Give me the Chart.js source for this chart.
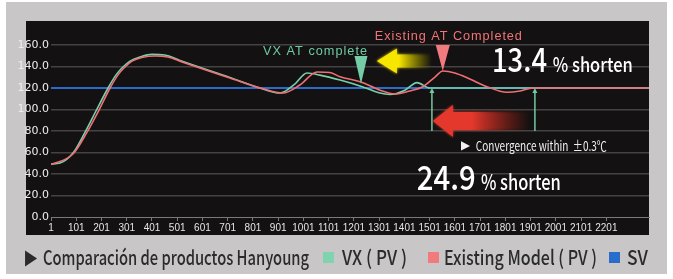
<!DOCTYPE html>
<html>
<head>
<meta charset="utf-8">
<script src="https://cdn.jsdelivr.net/npm/chart.js@4.4.1/dist/chart.umd.min.js"></script>
<style>
  html, body { margin: 0; padding: 0; background: #ffffff; }
  #wrap { position: relative; width: 673px; height: 279px; overflow: hidden; }
  #panel { position: absolute; left: 6px; top: 2px; width: 661px; height: 272px; background: #c8c6c7; }
  #chart { position: absolute; left: 0; top: 0; }
  .lg { position: absolute; top: 246px; height: 22px; line-height: 22px; white-space: nowrap;
        font-family: "Noto Sans CJK KR", "Noto Sans", sans-serif; font-size: 20px; font-weight: 500; color: #2b2b2b; }
  .lg span { display: inline-block; transform-origin: 0 50%; }
  .tri { position: absolute; left: 25px; top: 246px; height: 22px; line-height: 22px;
         font-family: "DejaVu Sans", sans-serif; font-size: 21px; color: #2b2b2b; }
  .tri span { display: inline-block; transform-origin: 0 50%; transform: scaleX(0.75); }
  .sq { position: absolute; top: 252px; width: 11px; height: 11px; }
</style>
</head>
<body>
<div id="wrap">
  <div id="panel"></div>
  <canvas id="chart" width="673" height="279"></canvas>
  <div class="tri"><span>▶</span></div>
  <div class="lg" style="left:43px"><span data-w="266">Comparación de productos Hanyoung</span></div>
  <div class="sq" style="left:323px;background:#7fd3ae"></div>
  <div class="lg" style="left:342px"><span data-w="65">VX ( PV )</span></div>
  <div class="sq" style="left:428px;background:#f07a7c"></div>
  <div class="lg" style="left:444px"><span data-w="153">Existing Model ( PV )</span></div>
  <div class="sq" style="left:609px;background:#2a6ccc"></div>
  <div class="lg" style="left:627px"><span data-w="21">SV</span></div>
</div>
<script>
// tick labels
const xTicks = [1, 101, 201, 301, 401, 501, 601, 701, 801, 901, 1001, 1101,
                1201, 1301, 1401, 1501, 1601, 1701, 1801, 1901, 2001, 2101, 2201];
const yTicks = [0, 20, 40, 60, 80, 100, 120, 140, 160];

// VX (PV) - sample index / temperature
const vxX = [1, 37, 88, 136, 179, 227, 258, 282, 314, 353, 401, 452, 512, 710, 829, 908, 967,
             1015, 1066, 1146, 1237, 1304, 1344, 1403, 1451, 1502, 1541, 2370];
const vxY = [49.3, 50.2, 59.5, 79, 98.6, 120, 132, 138.6, 145, 148.8, 151.3, 150.7, 145.6, 129.8,
             120, 115.3, 123.7, 134, 132, 127.4, 121, 115.3, 114, 118, 125, 120, 120, 120];

// Existing Model (PV)
const oldX = [1, 88, 144, 191, 235, 266, 290, 322, 361, 413, 464, 520, 710, 837, 920, 987, 1055,
              1106, 1146, 1229, 1304, 1363, 1422, 1474, 1522, 1553, 1601, 1660, 1728, 1807, 1859,
              1910, 1957, 2370];
const oldY = [48.8, 58.6, 79, 99.5, 120, 132, 138.6, 145, 148.4, 149.8, 148.8, 144.2, 129.3, 119.5,
              115.3, 122.8, 134.9, 134.4, 130.5, 125.6, 118, 114.4, 117.2, 121.2, 130.2, 135.8, 134,
              128.4, 121.2, 116, 117.2, 120, 120, 120];

// SV
const svX = [1, 2370];
const svY = [120, 120];

const pts = (xs, ys) => xs.map((x, i) => ({ x: x, y: ys[i] }));

const bgPlugin = {
  id: 'bg',
  beforeDraw(chart) {
    const { ctx, chartArea: a } = chart;
    ctx.save();
    ctx.fillStyle = '#131111';
    ctx.fillRect(a.left - 25, a.top - 2.5, a.right - a.left + 25, a.bottom - a.top + 20.5);
    ctx.restore();
  }
};

function fitText(ctx, text, x, y, font, width, color, spacing) {
  ctx.save();
  ctx.font = font;
  ctx.letterSpacing = spacing || '0px';
  ctx.fillStyle = color;
  ctx.textAlign = 'left';
  const w = ctx.measureText(text).width;
  ctx.translate(x, y);
  ctx.scale(width / w, 1);
  ctx.fillText(text, 0, 0);
  ctx.restore();
}

function marker(ctx, x, tipY, topY, half, color) {
  ctx.save();
  ctx.fillStyle = color;
  ctx.beginPath();
  ctx.moveTo(x - half, topY);
  ctx.lineTo(x + half, topY);
  ctx.lineTo(x, tipY);
  ctx.closePath();
  ctx.fill();
  ctx.restore();
}

function bigArrow(ctx, tx, ty, tail, headLen, headH, shaftH, color) {
  ctx.save();
  const g = ctx.createLinearGradient(tx, 0, tail, 0);
  g.addColorStop(0, color);
  g.addColorStop(0.4, color);
  g.addColorStop(1, 'rgba(0,0,0,0)');
  ctx.fillStyle = g;
  ctx.shadowColor = color;
  ctx.shadowBlur = 3;
  ctx.beginPath();
  ctx.moveTo(tx, ty);
  ctx.lineTo(tx + headLen, ty - headH);
  ctx.lineTo(tx + headLen, ty - shaftH);
  ctx.lineTo(tail, ty - shaftH);
  ctx.lineTo(tail, ty + shaftH);
  ctx.lineTo(tx + headLen, ty + shaftH);
  ctx.lineTo(tx + headLen, ty + headH);
  ctx.closePath();
  ctx.fill();
  ctx.restore();
}

function upArrow(ctx, x, top, bottom, color) {
  ctx.save();
  ctx.strokeStyle = color;
  ctx.fillStyle = color;
  ctx.lineWidth = 1.5;
  ctx.beginPath();
  ctx.moveTo(x, bottom);
  ctx.lineTo(x, top + 3);
  ctx.stroke();
  ctx.beginPath();
  ctx.moveTo(x, top);
  ctx.lineTo(x - 2.5, top + 5);
  ctx.lineTo(x + 2.5, top + 5);
  ctx.closePath();
  ctx.fill();
  ctx.restore();
}

const notesPlugin = {
  id: 'notes',
  afterDatasetsDraw(chart) {
    const { ctx, scales: { x, y } } = chart;
    const px = v => x.getPixelForValue(v);
    const py = v => y.getPixelForValue(v);
    const cjk = '"Noto Sans CJK KR", "Noto Sans", sans-serif';
    const lat = '"Liberation Sans", Arial, sans-serif';

    // arrows
    bigArrow(ctx, px(1292), py(145.1), px(1510), 20, 12.5, 6.5, '#f6e600');
    bigArrow(ctx, px(1514), py(89.3), px(1898), 20, 16, 9, '#e5382c');
    upArrow(ctx, px(1510), py(120), py(80), '#74c9a4');
    upArrow(ctx, px(1918), py(120), py(80), '#74c9a4');

    // completion markers
    marker(ctx, px(1229), py(123.7), py(149.8), 6.5, '#74cda6');
    marker(ctx, px(1553), py(135.8), py(160), 7, '#f07a7e');

    ctx.textBaseline = 'middle';
    fitText(ctx, 'VX AT complete', px(841), py(153.5), '12.5px ' + lat, 105, '#6dcaa1', '1px');
    fitText(ctx, 'Existing AT Completed', px(1284), py(168.4), '13.5px ' + lat, 148, '#f07479', '1px');
    fitText(ctx, '▶', px(1625), py(66), '12px "DejaVu Sans"', 9, '#f2f2f2');
    fitText(ctx, 'Convergence within  ±0.3℃', px(1684), py(66), '13.5px ' + cjk, 131, '#f2f2f2');

    ctx.textBaseline = 'alphabetic';
    fitText(ctx, '13.4', px(1748), py(134.9), '500 33px ' + cjk, 55, '#ffffff');
    fitText(ctx, '% shorten', px(1989), py(134.9), '500 20px ' + cjk, 80, '#ffffff');
    fitText(ctx, '24.9', px(1450), py(25.1), '500 34px ' + cjk, 59, '#ffffff');
    fitText(ctx, '% shorten', px(1704), py(25.1), '500 21px ' + cjk, 80, '#ffffff');
  }
};

const line = { pointRadius: 0, fill: false, cubicInterpolationMode: 'monotone' };

new Chart(document.getElementById('chart').getContext('2d'), {
  type: 'line',
  data: {
    datasets: [
      Object.assign({ label: 'Existing Model ( PV )', data: pts(oldX, oldY), borderColor: '#ef6f74', borderWidth: 1.6, order: 0 }, line),
      Object.assign({ label: 'VX ( PV )', data: pts(vxX, vxY), borderColor: '#78d0aa', borderWidth: 1.6, order: 1 }, line),
      Object.assign({ label: 'SV', data: pts(svX, svY), borderColor: '#2a6ccc', borderWidth: 2.2, order: 2 }, line)
    ]
  },
  options: {
    responsive: false,
    animation: false,
    events: [],
    layout: { padding: { left: 0, right: 24, top: 23.5, bottom: 42 } },
    plugins: { legend: { display: false }, tooltip: { enabled: false } },
    scales: {
      x: {
        type: 'linear', min: 1, max: 2370,
        afterBuildTicks: s => { s.ticks = xTicks.map(v => ({ value: v })); },
        afterFit: s => { s.height = 20; },
        grid: { drawOnChartArea: false, drawTicks: true, tickLength: 4, color: '#7a7a7a' },
        border: { display: true, color: '#7a7a7a', width: 1 },
        ticks: { color: '#e6e6e6', font: { family: 'Liberation Sans', size: 10 }, padding: 1,
                 maxRotation: 0, autoSkip: false, callback: v => String(v) }
      },
      y: {
        min: 0, max: 180,
        afterBuildTicks: s => { s.ticks = yTicks.map(v => ({ value: v })); },
        afterFit: s => { s.width = 51; },
        grid: { color: c => (c.tick && c.tick.value === 0) ? 'rgba(0,0,0,0)' : '#444242',
                lineWidth: 1.5, drawTicks: false },
        border: { display: false },
        ticks: { color: '#eeeeee', font: { family: 'DejaVu Sans', size: 11 }, padding: 2,
                 callback: v => Number(v).toFixed(1) }
      }
    }
  },
  plugins: [bgPlugin, notesPlugin]
});

// squeeze legend texts to the widths of the original condensed type
document.querySelectorAll('.lg span').forEach(el => {
  const w = el.getBoundingClientRect().width;
  el.style.transform = 'scaleX(' + (Number(el.dataset.w) / w) + ')';
});
</script>
</body>
</html>
